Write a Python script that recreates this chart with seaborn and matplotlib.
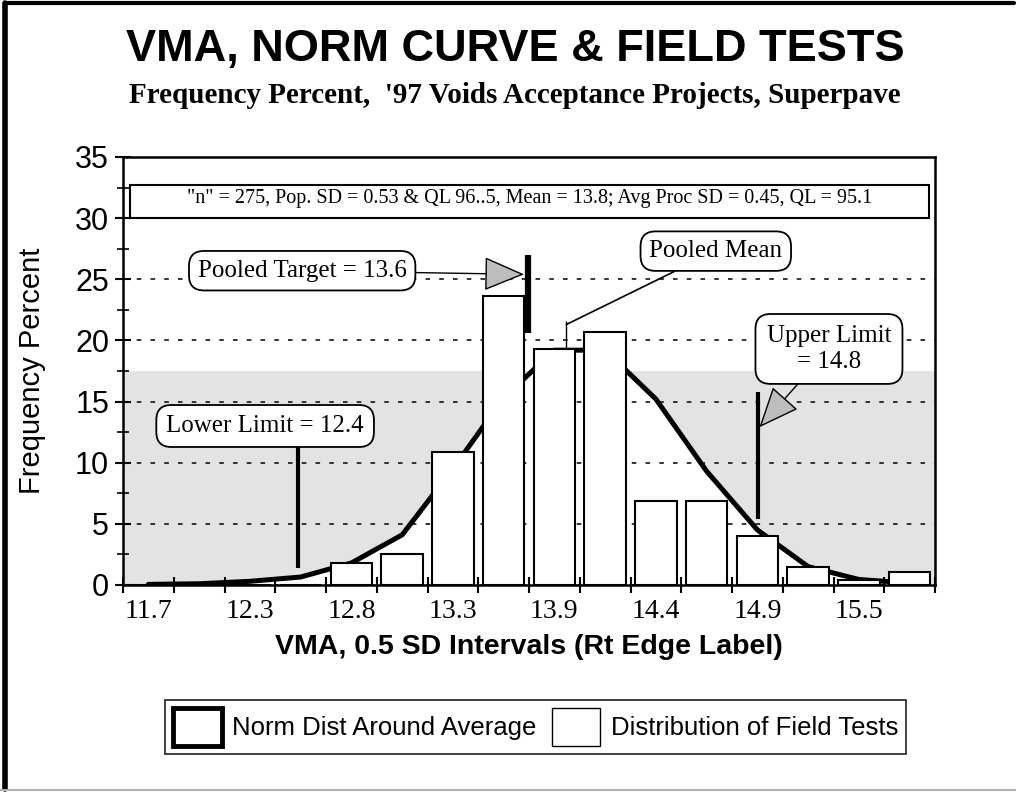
import numpy as np
import pandas as pd
import seaborn as sns
import matplotlib.pyplot as plt
from matplotlib.lines import Line2D
from matplotlib.patches import Patch, Rectangle

# right edge of each 0.5 SD interval
bin_edges = [11.75, 12.02, 12.28, 12.55, 12.81, 13.08, 13.34, 13.61,
             13.87, 14.14, 14.40, 14.67, 14.93, 15.20, 15.46, 15.73]
field_pct = [0, 0, 0, 0, 1.8, 2.5, 10.9, 23.6, 19.3, 20.7, 6.9, 6.9, 4.0, 1.5, 0.4, 1.1]
norm_pct = [0.05, 0.1, 0.3, 0.65, 1.8, 4.1, 9.5, 15.3, 19.2, 19.2, 15.2, 9.3, 4.5, 1.5, 0.45, 0.15]
tick_labels = ["11.7", "12.3", "12.8", "13.3", "13.9", "14.4", "14.9", "15.5"]

interval = 0.265
pooled_target = 13.6
pooled_mean = 13.8
lower_limit = 12.4
upper_limit = 14.8
shade_top = 17.5
info = '"n" = 275, Pop. SD = 0.53 & QL 96..5, Mean = 13.8; Avg Proc SD = 0.45, QL = 95.1'


def pos(v):
    # VMA value -> category axis position
    return (v - bin_edges[0]) / interval + 0.5


df = pd.DataFrame({"edge": bin_edges, "field": field_pct, "norm": norm_pct})
df["pos"] = np.arange(len(df))

sns.set_style("ticks")
plt.rcParams.update({
    "font.family": ["Liberation Sans", "DejaVu Sans"],
    "axes.linewidth": 1.8,
    "text.color": "black",
    "axes.labelcolor": "black",
    "axes.edgecolor": "black",
    "xtick.color": "black",
    "ytick.color": "black",
})
SERIF = ["Liberation Serif", "DejaVu Serif"]

fig = plt.figure(figsize=(10.16, 7.92), dpi=100)
ax = fig.add_axes([0.1211, 0.2614, 0.7992, 0.5404])

# gray band with the area under the normal curve left white
ax.axhspan(0, shade_top, color="#e3e3e3", lw=0, zorder=0.1)
ax.fill_between(df["pos"], df["norm"], color="white", lw=0, zorder=0.2)

sns.lineplot(data=df, x="pos", y="norm", color="black", lw=3.6, ax=ax, zorder=2)
sns.barplot(data=df, x="pos", y="field", native_scale=True, width=0.82,
            color="white", saturation=1, edgecolor="black", linewidth=1.5,
            errorbar=None, ax=ax, zorder=3)

ax.set_xlim(-0.5, len(df) - 0.5)
ax.set_ylim(0, 35)
ax.set_yticks(np.arange(0, 36, 5))
ax.set_yticks(np.arange(2.5, 35, 5), minor=True)
ax.set_xticks(np.arange(-0.5, len(df), 1))
ax.set_xticklabels([])
ax.set_xticks(df["pos"][::2], tick_labels, minor=True)
ax.tick_params(axis="y", which="major", direction="inout", length=12, width=1.5,
               labelsize=22, pad=4)
ax.tick_params(axis="y", which="minor", direction="inout", length=8, width=1.2)
ax.tick_params(axis="x", which="major", direction="inout", length=12, width=1.5)
ax.tick_params(axis="x", which="minor", length=0, pad=10)
for t in ax.get_xticklabels(minor=True):
    t.set_family(SERIF)
    t.set_fontsize(20)

ax.set_axisbelow(True)
ax.grid(axis="y", which="major", color="black", lw=1.1, ls=(0, (3, 6)))
for s in ax.spines.values():
    s.set_visible(True)
    s.set_linewidth(1.8)

ax.set_ylabel("Frequency Percent", fontsize=21)
ax.yaxis.set_label_coords(-0.095, 0.5)
ax.set_xlabel("VMA, 0.5 SD Intervals (Rt Edge Label)", fontsize=20.5, fontweight="bold")
ax.xaxis.set_label_coords(0.5, -0.115)

# info box at top
ax.add_patch(Rectangle((-0.36, 30), 15.75, 2.7, fc="white", ec="black", lw=1.5, zorder=5))
ax.text(7.52, 31.6, info, family=SERIF, fontsize=14.5, ha="center", va="center", zorder=6)

box = dict(boxstyle="round,pad=0.35,rounding_size=0.6", fc="white", ec="black", lw=1.3)
head = dict(arrowstyle="-|>,head_length=1.3,head_width=0.55", fc="#bdbdbd", ec="black",
            lw=1.0, shrinkA=0, shrinkB=0, mutation_scale=20)

# pooled target
ax.vlines(pos(pooled_target), 20.6, 27.0, color="black", lw=4.5, zorder=5)
ax.annotate(f"Pooled Target = {pooled_target}", xy=(pos(pooled_target) - 0.08, 25.4),
            xytext=(3.03, 25.7), ha="center", va="center", family=SERIF, fontsize=18,
            bbox=box, arrowprops=head, zorder=6)

# pooled mean
ax.vlines(pos(pooled_mean), 19.3, 21.6, color="black", lw=1.0, zorder=5)
ax.annotate("Pooled Mean", xy=(pos(pooled_mean), 21.3), xytext=(11.18, 27.3),
            ha="center", va="center", family=SERIF, fontsize=18, bbox=box,
            arrowprops=dict(arrowstyle="-", color="black", lw=1.2, shrinkA=0, shrinkB=0),
            zorder=6)

# upper limit
ax.vlines(pos(upper_limit), 5.4, 15.8, color="black", lw=3.0, zorder=5)
ax.annotate(f"Upper Limit\n= {upper_limit}", xy=(pos(upper_limit) + 0.03, 12.9),
            xytext=(13.41, 19.3), ha="center", va="center", multialignment="center",
            family=SERIF, fontsize=18, linespacing=1.2,
            bbox=dict(boxstyle="round,pad=0.45,rounding_size=0.6", fc="white",
                      ec="black", lw=1.3),
            arrowprops=head, zorder=6)

# lower limit
ax.vlines(pos(lower_limit), 1.4, 11.5, color="black", lw=3.0, zorder=5)
ax.text(2.30, 13.0, f"Lower Limit = {lower_limit}", ha="center", va="center",
        family=SERIF, fontsize=18, bbox=dict(boxstyle="round,pad=0.4,rounding_size=0.6",
                                             fc="white", ec="black", lw=1.3), zorder=6)

fig.text(0.507, 0.937, "VMA, NORM CURVE & FIELD TESTS", ha="center", va="center",
         fontsize=32.5, fontweight="bold")
fig.text(0.507, 0.880, "Frequency Percent,  '97 Voids Acceptance Projects, Superpave",
         ha="center", va="center", family=SERIF, fontsize=21, fontweight="bold")

handles = [Patch(fc="white", ec="black", lw=3.5), Patch(fc="white", ec="black", lw=1.0)]
fig.legend(handles, ["Norm Dist Around Average", "Distribution of Field Tests"],
           loc="center", bbox_to_anchor=(0.527, 0.082), ncol=2, fontsize=18.5,
           frameon=True, fancybox=False, edgecolor="black", handlelength=1.9,
           handleheight=1.9, handletextpad=0.4, columnspacing=0.6, borderpad=0.3,
           borderaxespad=0)
fig.legends[0].get_frame().set_linewidth(1.3)

# page border
fig.add_artist(Line2D([0.005, 0.005], [0.004, 0.996], transform=fig.transFigure,
                      color="black", lw=4))
fig.add_artist(Line2D([0.005, 0.998], [0.996, 0.996], transform=fig.transFigure,
                      color="black", lw=3))
fig.add_artist(Line2D([0.0, 1.0], [0.003, 0.003], transform=fig.transFigure,
                      color="#b0b0b0", lw=1.5))

fig.savefig("out.png", dpi=100)
